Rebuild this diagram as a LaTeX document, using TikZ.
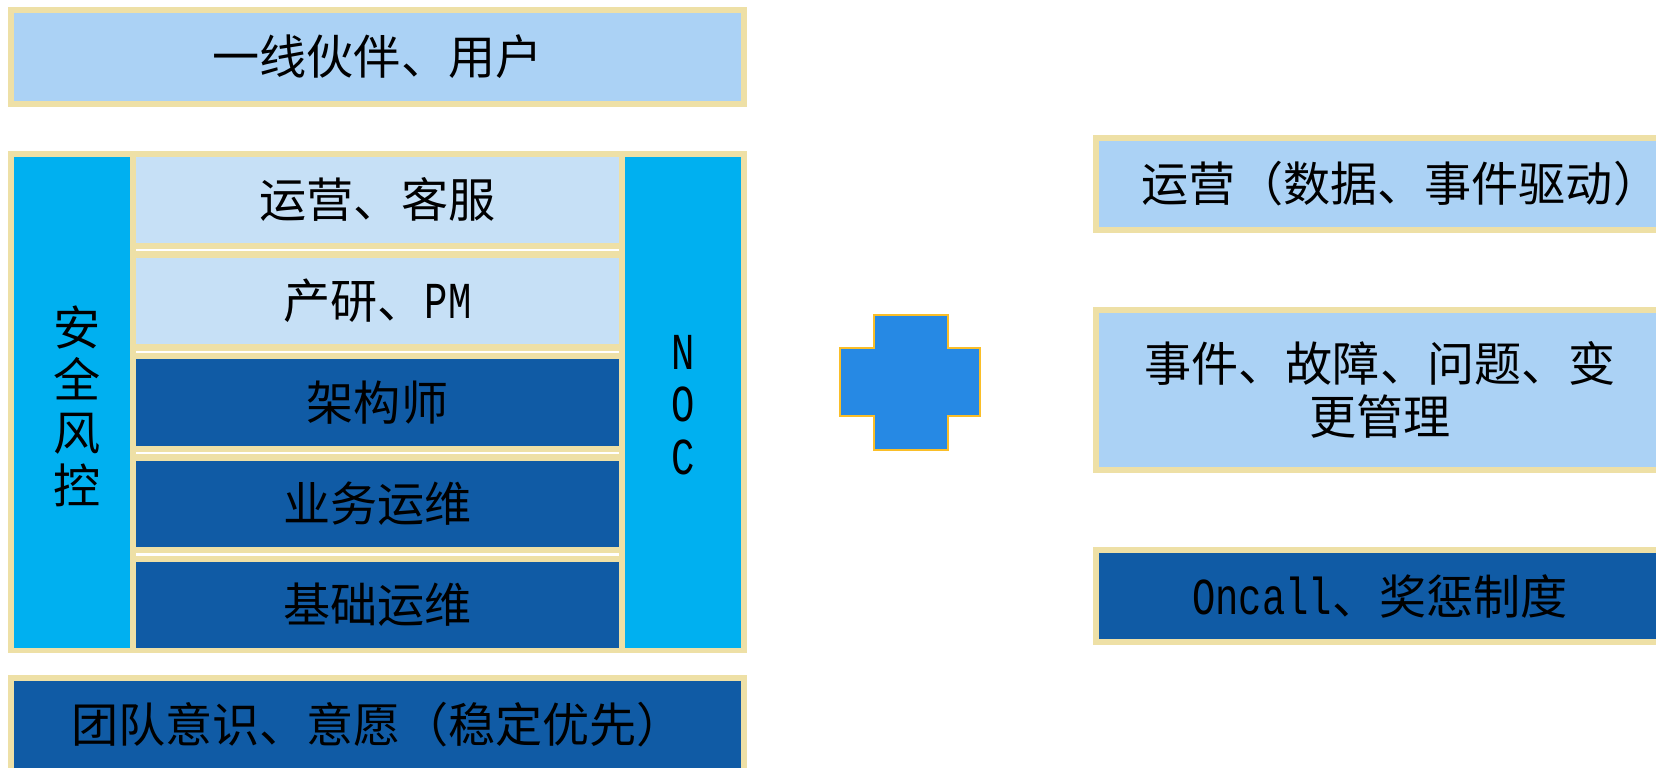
\documentclass[tikz,border=0pt]{standalone}
\usepackage{fontspec}
\setmainfont{Noto Sans CJK SC}
\newfontfamily\mono[Scale=1.1,FakeStretch=0.75]{Liberation Mono}
\usetikzlibrary{positioning}
\definecolor{khaki}{RGB}{238,224,166}
\definecolor{paleblue}{RGB}{171,210,245}
\definecolor{rowblue}{RGB}{198,224,246}
\definecolor{deepblue}{RGB}{16,91,165}
\definecolor{cyanbar}{RGB}{0,176,240}
\definecolor{crossblue}{RGB}{38,137,228}
\definecolor{crossedge}{RGB}{250,190,40}
\begin{document}
\begin{tikzpicture}[x=0.01cm, y=-0.01cm,
    every node/.style={inner sep=0pt, outer sep=0pt, font=\fontsize{13.4}{15}\selectfont},
    band/.style={draw=khaki, line width=0.06cm, fill=#1},
    wide/.style={band=#1, minimum width=7.323cm, minimum height=0.934cm},
    side/.style={band=#1, minimum width=5.68cm},
    layer/.style={fill=#1, minimum width=4.821cm, minimum height=0.863cm},
    pillar/.style={fill=cyanbar, minimum width=1.155cm, minimum height=4.913cm},
    gap/.style={draw=white, line width=0.022cm}]
  \useasboundingbox (0,0) rectangle (1656,768);
  \clip (0,0) rectangle (1656,768);
  \fill[white] (0,0) rectangle (1656,768);

  \node (users) [wide=paleblue] at (377.55,57) {一线伙伴、用户};

  \node (frame) [fill=khaki, minimum width=7.383cm, minimum height=5.026cm] at (377.55,402) {};
  \node (risk) [pillar] at (71.75,402.35) {};
  \node (noc) [pillar] at (682.75,402.35) {};
  \node (risktxt) [align=center] at (77,406) {安\\全\\风\\控};
  \node (noctxt) [align=center, font=\mono\fontsize{13.4}{15}\selectfont] at (683,405) {N\\O\\C};

  \node (ops) [layer=rowblue] at (377.55,199.7) {运营、客服};
  \node (dev) [layer=rowblue, below=0.15cm of ops] {产研、{\mono PM}};
  \node (arch) [layer=deepblue, below=0.15cm of dev] {架构师};
  \node (biz) [layer=deepblue, below=0.15cm of arch] {业务运维};
  \node (infra) [layer=deepblue, below=0.15cm of biz] {基础运维};

  \draw[gap] ([yshift=-0.075cm]ops.south west) -- ([yshift=-0.075cm]ops.south east);
  \draw[gap] ([yshift=-0.075cm]dev.south west) -- ([yshift=-0.075cm]dev.south east);
  \draw[gap] ([yshift=-0.075cm]arch.south west) -- ([yshift=-0.075cm]arch.south east);
  \draw[gap] ([yshift=-0.075cm]biz.south west) -- ([yshift=-0.075cm]biz.south east);

  \node (culture) [band=deepblue, minimum width=7.323cm, minimum height=0.93cm] at (377.55,724.5) {团队意识、意愿（稳定优先）};

  % plus sign
  \draw[crossedge, fill=crossblue, line width=0.025cm] (874,315) -- (948,315) -- (948,348) -- (980,348) -- (980,416) -- (948,416) -- (948,450) -- (874,450) -- (874,416) -- (840,416) -- (840,348) -- (874,348) -- cycle;

  \node (driven) [side=paleblue, minimum height=0.917cm] at (1380,183.85) {\hspace{0.42cm}运营（数据、事件驱动）};
  \node (itil) [side=paleblue, minimum height=1.6cm, align=center] at (1380,389.7) {事件、故障、问题、变\\更管理};
  \node (oncall) [side=deepblue, minimum height=0.917cm] at (1380,596.15) {{\mono Oncall}、奖惩制度};
\end{tikzpicture}
\end{document}
